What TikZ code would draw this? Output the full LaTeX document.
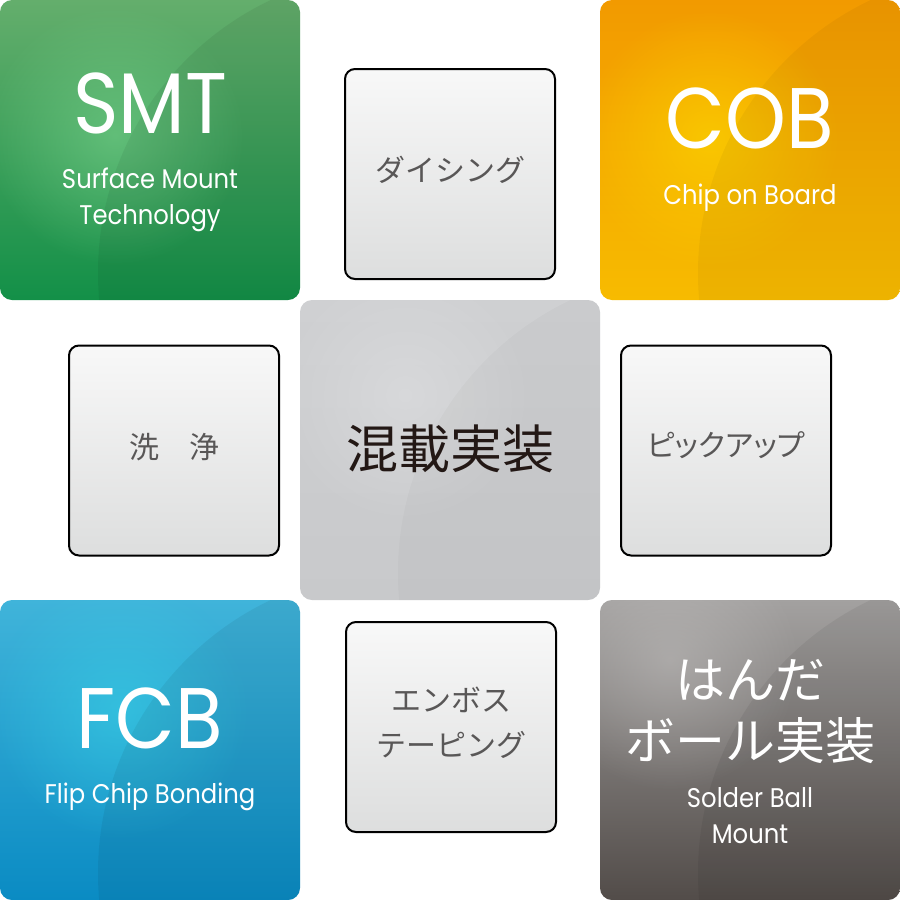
\documentclass[tikz,border=0pt]{standalone}
\usepackage{fontspec}
\usetikzlibrary{fadings}
\setmainfont{Poppins}[FakeStretch=0.9]
\newfontfamily\jp{Noto Sans CJK JP}
\newfontfamily\jpp{Noto Sans CJK JP}[RawFeature=+palt]
\definecolor{gTL}{HTML}{64AE6C}\definecolor{gMD}{HTML}{3FA05C}\definecolor{gBR}{HTML}{139048}\definecolor{gGL}{HTML}{7DD690}
\definecolor{oTL}{HTML}{F29A00}\definecolor{oMD}{HTML}{F5AA00}\definecolor{oBR}{HTML}{F7BB00}\definecolor{oGL}{HTML}{FBD000}
\definecolor{bTL}{HTML}{40B4DA}\definecolor{bMD}{HTML}{22A5D5}\definecolor{bBR}{HTML}{0A8BC3}\definecolor{bGL}{HTML}{38D0E6}
\definecolor{kTL}{HTML}{A3A1A0}\definecolor{kMD}{HTML}{87827F}\definecolor{kBR}{HTML}{524C49}\definecolor{kGL}{HTML}{C4C2C1}
\definecolor{cTL}{HTML}{CFD0D2}\definecolor{cMD}{HTML}{CACBCD}\definecolor{cBR}{HTML}{C8C9CB}\definecolor{cGL}{HTML}{DCDDDF}
\definecolor{sTop}{HTML}{F8F8F8}\definecolor{sMid}{HTML}{F3F3F3}\definecolor{sBot}{HTML}{DDDEDE}
\definecolor{jtxt}{HTML}{595757}
\definecolor{ctxt}{HTML}{231815}
\tikzfading[name=glowfade, inner color=transparent!0, outer color=transparent!100]
\tikzset{
  bigbox/.style={minimum width=300pt, minimum height=300pt, rounded corners=12pt, inner sep=0pt, outer sep=0pt, shading angle=45},
  smallbox/.style={minimum width=210pt, minimum height=210pt, rounded corners=10pt, inner sep=0pt, draw=black, line width=2pt,
     top color=sTop, middle color=sMid, bottom color=sBot},
  jtext/.style={font=\jp\fontsize{30}{36}\selectfont, text=jtxt, inner sep=0pt},
  title/.style={font=\fontsize{86}{90}\selectfont, text=white, inner sep=0pt, anchor=base},
  sub/.style={font=\fontsize{27}{30}\selectfont, text=white, inner sep=0pt, anchor=base},
  jtitle/.style={font=\jp\fontsize{50}{56}\selectfont, text=white, inner sep=0pt},
}
\newcommand\myglare[6]{%
  \begin{scope}[shift={(#1,#2)}]
    \clip[rounded corners=12pt] (0,0) rectangle (300,300);
    \fill[#3, opacity=#4, path fading=glowfade] #5;
    \fill[black, opacity=#6] (400,273) circle[radius=302];
  \end{scope}}
\begin{document}
\begin{tikzpicture}[x=1pt,y=-1pt]
\useasboundingbox (0,0) rectangle (900,900);
\fill[white] (0,0) rectangle (900,900);
% corner boxes
\node[bigbox, top color=gTL, middle color=gMD, bottom color=gBR] (smt) at (150,150) {};
\myglare{0}{0}{gGL}{0.55}{(115,135) circle[radius=130]}{0.06}
\node[bigbox, top color=oTL, middle color=oMD, bottom color=oBR] (cob) at (750,150) {};
\myglare{600}{0}{oGL}{0.75}{(110,140) circle[radius=130]}{0.04}
\node[bigbox, top color=bTL, middle color=bMD, bottom color=bBR] (fcb) at (150,750) {};
\myglare{0}{600}{bGL}{0.6}{(120,110) circle[radius=130]}{0.06}
\node[bigbox, top color=kTL, middle color=kMD, bottom color=kBR] (sbm) at (750,750) {};
\myglare{600}{600}{kGL}{0.5}{(70,60) circle[radius=130]}{0.06}
\node[bigbox, top color=cTL, middle color=cMD, bottom color=cBR] (mix) at (450,450) {};
\myglare{300}{300}{cGL}{0.7}{(105,95) circle[radius=130]}{0.025}
% small boxes
\node[smallbox] (dic) at (450,174) {};
\node[smallbox] (cln) at (174,450.5) {};
\node[smallbox] (pck) at (726,450.5) {};
\node[smallbox] (emb) at (451,727) {};
% texts
\node[title] (tsmt) at (150,133) {SMT};
\node[sub] (tsmt1) at (150,188) {Surface Mount};
\node[sub] (tsmt2) at (150,224) {Technology};
\node[title] (tcob) at (750,148) {COB};
\node[sub] (tcob1) at (750,204) {Chip on Board};
\node[title] (tfcb) at (150,748) {FCB};
\node[sub] (tfcb1) at (150,803) {Flip Chip Bonding};
\node[jtitle] (tsbm1) at (750,680) {はんだ};
\node[jtitle] (tsbm2) at (750,741) {ボール実装};
\node[sub] (tsbm3) at (750,807) {Solder Ball};
\node[sub] (tsbm4) at (750,843) {Mount};
\node[font=\jp\fontsize{52}{58}\selectfont, text=ctxt, inner sep=0pt] (tmix) at (450,449) {混載実装};
\node[jtext] (tdic) at (450,170) {ダイシング};
\node[jtext] (tcln) at (174,447) {洗　浄};
\node[jtext, font=\jpp\fontsize{30}{36}\selectfont] (tpck) at (726,445) {ピックアップ};
\node[jtext] (temb1) at (451,700) {エンボス};
\node[jtext] (temb2) at (451,745) {テーピング};
\end{tikzpicture}
\end{document}
